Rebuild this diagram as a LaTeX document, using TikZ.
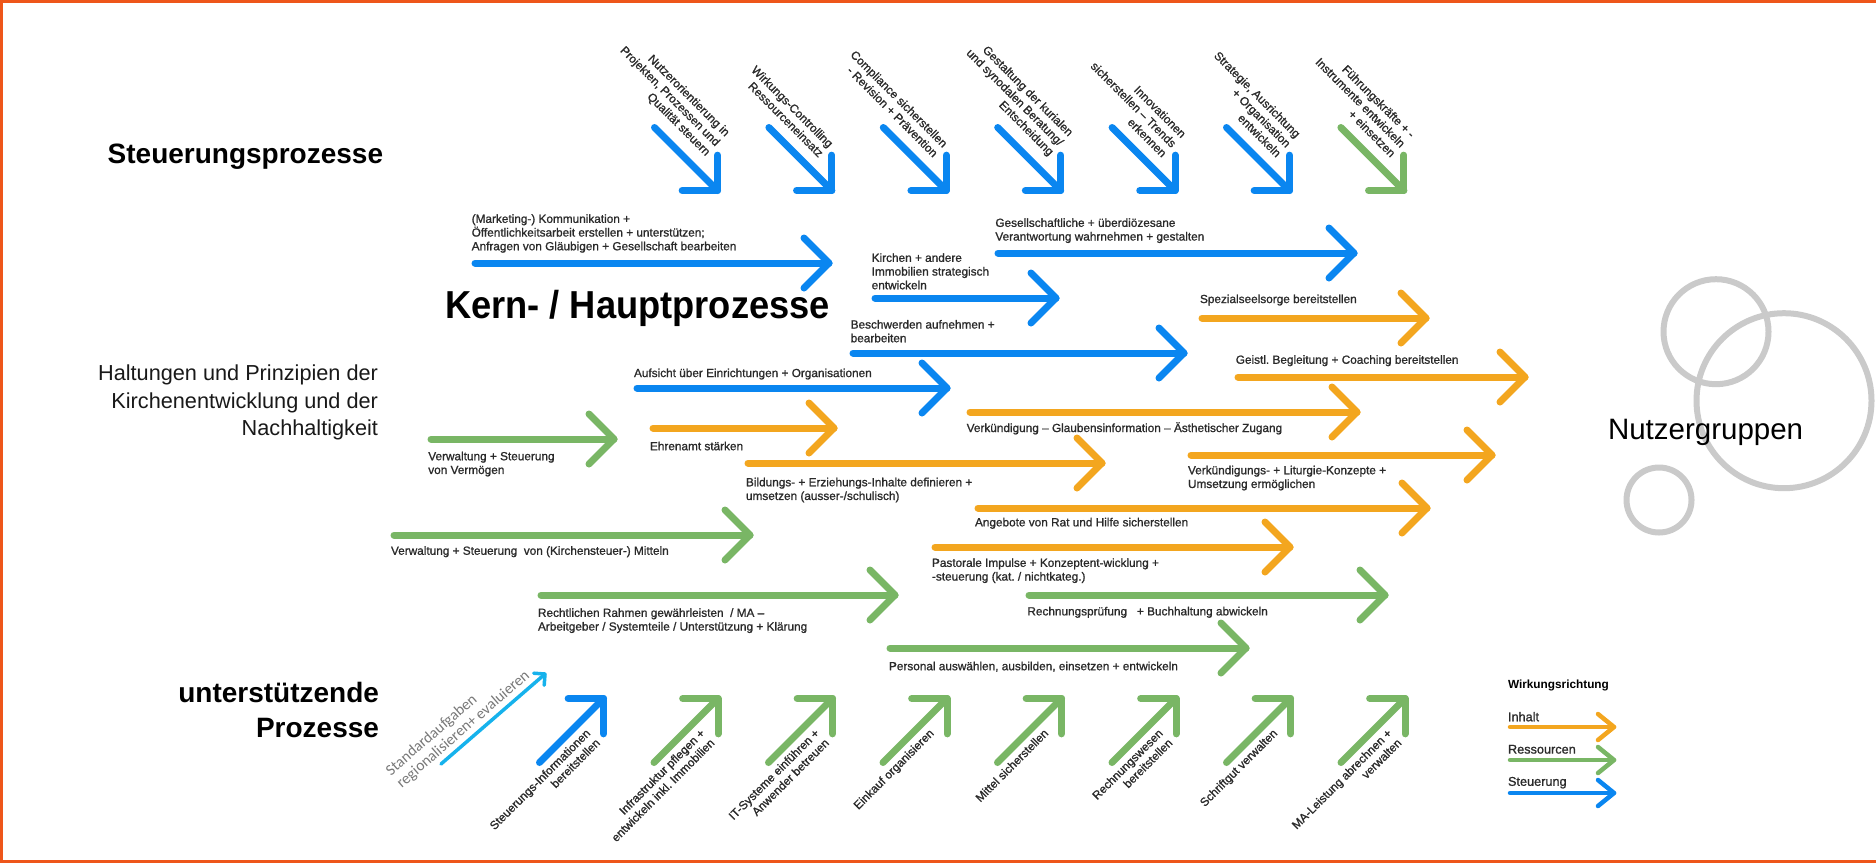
\documentclass[tikz,border=0pt]{standalone}
\usepackage{fontspec}
\setmainfont{Liberation Sans}
\newfontfamily\calib{Carlito}
\newfontfamily\titlefont[FakeStretch=0.93]{Liberation Sans}
\newfontfamily\lblfont[FakeBold=1.1]{Liberation Sans}
\definecolor{cblue}{RGB}{10,134,240}
\definecolor{corange}{RGB}{243,166,31}
\definecolor{cgreen}{RGB}{121,182,101}
\definecolor{ccyan}{RGB}{22,178,236}
\definecolor{framecol}{RGB}{238,86,26}
\definecolor{ring}{RGB}{202,202,202}
\definecolor{txt}{RGB}{42,42,42}
\definecolor{stdgray}{RGB}{120,120,120}
\tikzset{
  shaft/.style={line width=7pt, line cap=round},
  thinshaft/.style={line width=4.5pt, line cap=round},
  pics/chev/.style={code={\draw[line width=7pt, line cap=round, line join=round] (-25,-25) -- (0,0) -- (-25,25);}},
  pics/chevs/.style={code={\draw[line width=4.5pt, line cap=round, line join=round] (-16,-13) -- (0,0) -- (-16,13);}},
  pics/chevc/.style={code={\draw[line width=3.5pt, line cap=round, line join=round] (-8,-8) -- (0,0) -- (-8,8);}},
  lbl/.style={font=\lblfont\fontsize{11.8}{13.7}\selectfont, text=txt, align=left, anchor=north west},
  lblone/.style={font=\lblfont\fontsize{11.8}{13.7}\selectfont, text=txt, anchor=west},
  toplbl/.style={rotate=-45, anchor=south east, align=right, font=\lblfont\fontsize{11.8}{13.7}\selectfont, text=txt},
  botlbl/.style={rotate=45, anchor=north east, align=right, font=\lblfont\fontsize{11.8}{13.7}\selectfont, text=txt},
  legtxt/.style={anchor=west, font=\lblfont\fontsize{12.7}{15}\selectfont, text=txt},
}
\begin{document}
\begin{tikzpicture}[x=1pt, y=-1pt, every node/.style={inner sep=0pt, outer sep=0pt}]
\useasboundingbox (0,0) rectangle (1876,863);

% frame on top, left and bottom
\draw[framecol, line width=2.6pt] (1876,1.3) -- (1.3,1.3) -- (1.3,861.7) -- (1876,861.7);

% user group rings
\draw[ring, line width=6pt] (1716,331.7) circle[radius=52.5pt];
\draw[ring, line width=6pt] (1784,400.7) circle[radius=87.5pt];
\draw[ring, line width=6pt] (1659,500) circle[radius=32.5pt];

% section titles
\node[anchor=west, font=\bfseries\fontsize{28}{34}\selectfont] (tSteu) at (107.7,157) {Steuerungsprozesse};
\node[anchor=base west, font=\titlefont\bfseries\fontsize{39}{45}\selectfont] (tKern) at (445,318.3) {Kern- / Hauptprozesse};
\node[anchor=north east, align=right, font=\fontsize{21.7}{27.5}\selectfont, text=black!90] (tHalt) at (378,364.8) {Haltungen und Prinzipien der\\Kirchenentwicklung und der\\Nachhaltigkeit};
\node[anchor=north east, align=right, font=\bfseries\fontsize{28}{35}\selectfont] (tUnt) at (379,682.6) {unterstützende\\Prozesse};
\node[anchor=west, font=\fontsize{29.5}{35}\selectfont] (tNutz) at (1608,432.5) {Nutzergruppen};

% steering processes (top row, pointing down-right)
\foreach \i/\c in {0/cblue,1/cblue,2/cblue,3/cblue,4/cblue,5/cblue,6/cgreen}{
  \pgfmathsetmacro\xx{652+114.4*\i}
  \coordinate (u\i-s) at (\xx+2.5,127.5);
  \coordinate (u\i-t) at (\xx+65.5,190.5);
  \draw[shaft,\c] (u\i-s) -- (u\i-t);
  \pic[\c,rotate=-45] at (u\i-t) {chev};
}
\node[toplbl] (uL0) at (704,158) {Nutzerorientierung in\\Projekten, Prozessen und\\Qualität steuern};
\node[toplbl] (uL1) at (818.4,158) {Wirkungs-Controlling\\Ressourceneinsatz};
\node[toplbl] (uL2) at (932.8,158) {Compliance sicherstellen\\- Revision + Prävention};
\node[toplbl] (uL3) at (1047.2,158) {Gestaltung der kurialen\\und synodalen Beratung/\\Entscheidung};
\node[toplbl] (uL4) at (1161.6,158) {Innovationen\\sicherstellen – Trends\\erkennen};
\node[toplbl] (uL5) at (1276,158) {Strategie, Ausrichtung\\+ Organisation\\entwickeln};
\node[toplbl] (uL6) at (1390.4,158) {Führungskräfte + -\\Instrumente entwickeln\\+ einsetzen};

% supporting processes (bottom row, pointing up-right)
\foreach \i/\c in {0/cblue,1/cgreen,2/cgreen,3/cgreen,4/cgreen,5/cgreen,6/cgreen,7/cgreen}{
  \pgfmathsetmacro\xx{537+114.5*\i}
  \coordinate (d\i-s) at (\xx+2.5,762.5);
  \coordinate (d\i-t) at (\xx+66.5,698.5);
  \draw[shaft,\c] (d\i-s) -- (d\i-t);
  \pic[\c,rotate=45] at (d\i-t) {chev};
}
\node[botlbl] (dL0) at (585,728) {Steuerungs-Informationen\\bereitstellen};
\node[botlbl] (dL1) at (699.5,728) {Infrastruktur pflegen +\\entwickeln inkl.\ Immobilien};
\node[botlbl] (dL2) at (814,728) {IT-Systeme einführen +\\Anwender betreuen};
\node[botlbl] (dL3) at (928.5,728) {Einkauf organisieren};
\node[botlbl] (dL4) at (1043,728) {Mittel sicherstellen};
\node[botlbl] (dL5) at (1157.5,728) {Rechnungswesen\\bereitstellen};
\node[botlbl] (dL6) at (1272,728) {Schriftgut verwalten};
\node[botlbl] (dL7) at (1386.5,728) {MA-Leistung abrechnen +\\verwalten};

% standard tasks hint
\coordinate (cs) at (441,764);
\coordinate (ct) at (545,674);
\draw[ccyan, line width=3.5pt, line cap=round] (cs) -- (ct);
\pic[ccyan, rotate=40.9] at (ct) {chevc};
\node[rotate=41, anchor=north west, align=left, font=\calib\fontsize{15.5}{16.5}\selectfont, text=stdgray] (tStd) at (384,768) {Standardaufgaben\\regionalisieren+ evaluieren};

% core processes (horizontal flows)
\foreach \n/\sx/\tx/\yy/\c in {
  a1/475/829/263/cblue, a2/875/1056/298/cblue, a3/853/1184/353/cblue,
  a4/637/947/388/cblue, a5/998/1354/253/cblue, a6/1202/1426/318/corange,
  a7/1238/1525/377/corange, a8/970/1357/412/corange, a9/431/614/439/cgreen,
  a10/653/834/428/corange, a11/748/1102/463/corange, a12/1191/1492/455/corange,
  a13/978/1427/508/corange, a14/394/750/535/cgreen, a15/935/1290/547/corange,
  a16/541/895/595/cgreen, a17/1029/1385/595/cgreen, a18/890/1246/648/cgreen}{
  \coordinate (\n-s) at (\sx,\yy);
  \coordinate (\n-t) at (\tx,\yy);
  \draw[shaft,\c] (\n-s) -- (\n-t);
  \pic[\c] at (\n-t) {chev};
}

\node[lbl] (lMark) at (471.7,214.3) {(Marketing-) Kommunikation +\\Öffentlichkeitsarbeit erstellen + unterstützen;\\Anfragen von Gläubigen + Gesellschaft bearbeiten};
\node[lbl] (lKirch) at (871.7,253.3) {Kirchen + andere\\Immobilien strategisch\\entwickeln};
\node[lbl] (lBesch) at (850.7,320) {Beschwerden aufnehmen +\\bearbeiten};
\node[lblone] (lAufs) at (634,374) {Aufsicht über Einrichtungen + Organisationen};
\node[lbl] (lGes) at (995.4,218.3) {Gesellschaftliche + überdiözesane\\Verantwortung wahrnehmen + gestalten};
\node[lblone] (lSpez) at (1200,300) {Spezialseelsorge bereitstellen};
\node[lblone] (lGeist) at (1235.8,360.7) {Geistl.\ Begleitung + Coaching bereitstellen};
\node[lbl] (lVerm) at (428.3,451.7) {Verwaltung + Steuerung\\von Vermögen};
\node[lblone] (lEhren) at (650,446) {Ehrenamt stärken};
\node[lblone] (lVerk) at (966.7,428.3) {Verkündigung – Glaubensinformation – Ästhetischer Zugang};
\node[lbl] (lBild) at (746,477.7) {Bildungs- + Erziehungs-Inhalte definieren +\\umsetzen (ausser-/schulisch)};
\node[lbl] (lLit) at (1188,465.7) {Verkündigungs- + Liturgie-Konzepte +\\Umsetzung ermöglichen};
\node[lblone] (lRat) at (975,523.3) {Angebote von Rat und Hilfe sicherstellen};
\node[lblone] (lMittel) at (391,551.7) {Verwaltung + Steuerung\ \ von (Kirchensteuer-) Mitteln};
\node[lbl] (lPast) at (932,558.3) {Pastorale Impulse + Konzeptent-wicklung +\\-steuerung (kat.\ / nichtkateg.)};
\node[lbl] (lRecht) at (538,608.3) {Rechtlichen Rahmen gewährleisten\ \ / MA –\\Arbeitgeber / Systemteile / Unterstützung + Klärung};
\node[lblone] (lRechn) at (1027.4,612.3) {Rechnungsprüfung\ \ \ + Buchhaltung abwickeln};
\node[lblone] (lPers) at (889,666.7) {Personal auswählen, ausbilden, einsetzen + entwickeln};

% legend
\node[anchor=west, font=\bfseries\fontsize{11.8}{14}\selectfont] (lgT) at (1508,685) {Wirkungsrichtung};
\node[legtxt] (lgI) at (1508,716.7) {Inhalt};
\node[legtxt] (lgR) at (1508,749.3) {Ressourcen};
\node[legtxt] (lgS) at (1508,782.7) {Steuerung};
\foreach \n/\yy/\c in {gI/727/corange, gR/760/cgreen, gS/793/cblue}{
  \coordinate (\n-s) at (1510,\yy);
  \coordinate (\n-t) at (1614,\yy);
  \draw[thinshaft,\c] (\n-s) -- (\n-t);
  \pic[\c] at (\n-t) {chevs};
}
\end{tikzpicture}
\end{document}
